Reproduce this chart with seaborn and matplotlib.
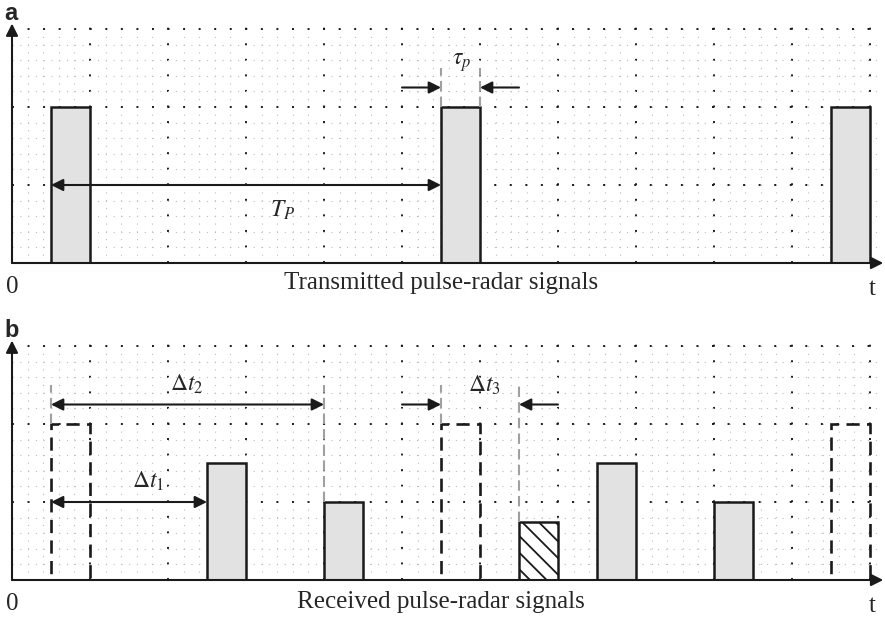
import matplotlib
matplotlib.use("Agg")
import matplotlib.pyplot as plt
import seaborn as sns
import numpy as np

# Pulse data (time axis in grid units, one major grid cell = 1)
pulse_width = 0.5
tx_start = [0.5, 5.5, 10.5]          # transmitted pulses
tx_height = [2.0, 2.0, 2.0]
echo_start = [2.5, 4.0, 7.5, 9.0]    # received echoes
echo_height = [1.5, 1.0, 1.5, 1.0]
clutter_start = [6.5]                # hatched echo
clutter_height = [0.75]

captions = ["Transmitted pulse-radar signals", "Received pulse-radar signals"]
panel_letters = ["a", "b"]

sns.set_theme(style="white")
plt.rcParams['font.family'] = ['Liberation Serif', 'DejaVu Serif']
plt.rcParams['mathtext.fontset'] = 'stix'
plt.rcParams['hatch.linewidth'] = 1.3

XMAX, YMAX = 11.15, 3.04
PX = 78.0  # pixels per grid unit
fig = plt.figure(figsize=(8.85, 6.19), dpi=100)
ax_a = fig.add_axes([12 / 885, (619 - 263) / 619, XMAX * PX / 885, YMAX * PX / 619])
ax_b = fig.add_axes([12 / 885, (619 - 580) / 619, XMAX * PX / 885, YMAX * PX / 619])

gray_fill = '#e2e2e2'
guide_col = '#a0a0a0'
arrow_kw = dict(arrowstyle='-|>', lw=1.5, color='k', mutation_scale=18, shrinkA=0, shrinkB=0)
dbl_kw = dict(arrow_kw, arrowstyle='<|-|>')


def setup(ax, caption, letter, cap_y):
    ax.set_xlim(0, XMAX)
    ax.set_ylim(0, YMAX)
    ax.set_xticks(np.arange(0, 12))
    ax.set_yticks(np.arange(0, 4))
    ax.set_xticks(np.arange(0, XMAX, 0.2), minor=True)
    ax.set_yticks(np.arange(0, YMAX, 0.2), minor=True)
    ax.tick_params(which='both', length=0, labelbottom=False, labelleft=False)
    ax.grid(which='minor', color='#bdbdbd', linestyle=(0, (1, 6)), lw=0.8)
    ax.grid(which='major', color='k', linestyle=(0, (1, 7)), lw=1.4)
    ax.set_axisbelow(True)
    for s in ax.spines.values():
        s.set_visible(False)
    # axes with arrow heads
    ax.annotate('', xy=(0, 3.07), xytext=(0, 0), arrowprops=arrow_kw, annotation_clip=False)
    ax.annotate('', xy=(XMAX + 0.02, 0), xytext=(0, 0), arrowprops=arrow_kw, annotation_clip=False)
    ax.text(0, -0.31, '0', ha='center', va='center', fontsize=18, clip_on=False)
    ax.text(11.03, -0.33, 't', ha='center', va='center', fontsize=18, clip_on=False)
    ax.text(5.5, cap_y, caption, ha='center', va='center', fontsize=18, clip_on=False)
    ax.text(-0.1, 3.2, letter, ha='left', va='center', fontsize=17, weight='bold',
            family='Liberation Sans', clip_on=False)


def guide(ax, x, y0, y1):
    ax.plot([x, x], [y0, y1], color=guide_col, lw=1.5, linestyle=(0, (5, 2.5)), zorder=3)


# ---- panel a: transmitted pulses
setup(ax_a, captions[0], panel_letters[0], -0.25)
ax_a.bar(tx_start, tx_height, width=pulse_width, align='edge', color=gray_fill,
         edgecolor='k', lw=1.8, zorder=2)
ax_a.annotate('', xy=(tx_start[0], 1.0), xytext=(tx_start[1], 1.0), arrowprops=dbl_kw)
ax_a.text(3.47, 0.68, r'$T_P$', ha='center', va='center', fontsize=17)
guide(ax_a, tx_start[1], 2.0, 2.5)
guide(ax_a, tx_start[1] + pulse_width, 2.0, 2.5)
ax_a.annotate('', xy=(tx_start[1], 2.25), xytext=(tx_start[1] - 0.5, 2.25), arrowprops=arrow_kw)
ax_a.annotate('', xy=(tx_start[1] + pulse_width, 2.25), xytext=(tx_start[1] + 1.0, 2.25),
              arrowprops=arrow_kw)
ax_a.text(5.76, 2.57, r'$\tau_p$', ha='center', va='center', fontsize=17)

# ---- panel b: received echoes
setup(ax_b, captions[1], panel_letters[1], -0.28)
ax_b.bar(tx_start, tx_height, width=pulse_width, align='edge', facecolor='none',
         edgecolor='k', lw=1.9, linestyle=(0, (5, 2.8)), zorder=2)
ax_b.bar(echo_start, echo_height, width=pulse_width, align='edge', color=gray_fill,
         edgecolor='k', lw=1.8, zorder=2)
ax_b.bar(clutter_start, clutter_height, width=pulse_width, align='edge', facecolor='white',
         edgecolor='k', lw=1.8, hatch='\\\\', zorder=2)

# delta t1
ax_b.annotate('', xy=(tx_start[0], 1.0), xytext=(echo_start[0], 1.0), arrowprops=dbl_kw)
ax_b.text(1.74, 1.27, r'$\Delta t_1$', ha='center', va='center', fontsize=17)
# delta t2
guide(ax_b, tx_start[0], 2.0, 2.5)
guide(ax_b, echo_start[1], echo_height[1], 2.5)
ax_b.annotate('', xy=(tx_start[0], 2.25), xytext=(echo_start[1], 2.25), arrowprops=dbl_kw)
ax_b.text(2.24, 2.51, r'$\Delta t_2$', ha='center', va='center', fontsize=17)
# delta t3
guide(ax_b, tx_start[1], 2.0, 2.5)
guide(ax_b, clutter_start[0], clutter_height[0], 2.5)
ax_b.annotate('', xy=(tx_start[1], 2.25), xytext=(tx_start[1] - 0.5, 2.25), arrowprops=arrow_kw)
ax_b.annotate('', xy=(clutter_start[0], 2.25), xytext=(clutter_start[0] + 0.5, 2.25),
              arrowprops=arrow_kw)
ax_b.text(6.05, 2.5, r'$\Delta t_3$', ha='center', va='center', fontsize=17)

fig.savefig('out.png', dpi=100)
